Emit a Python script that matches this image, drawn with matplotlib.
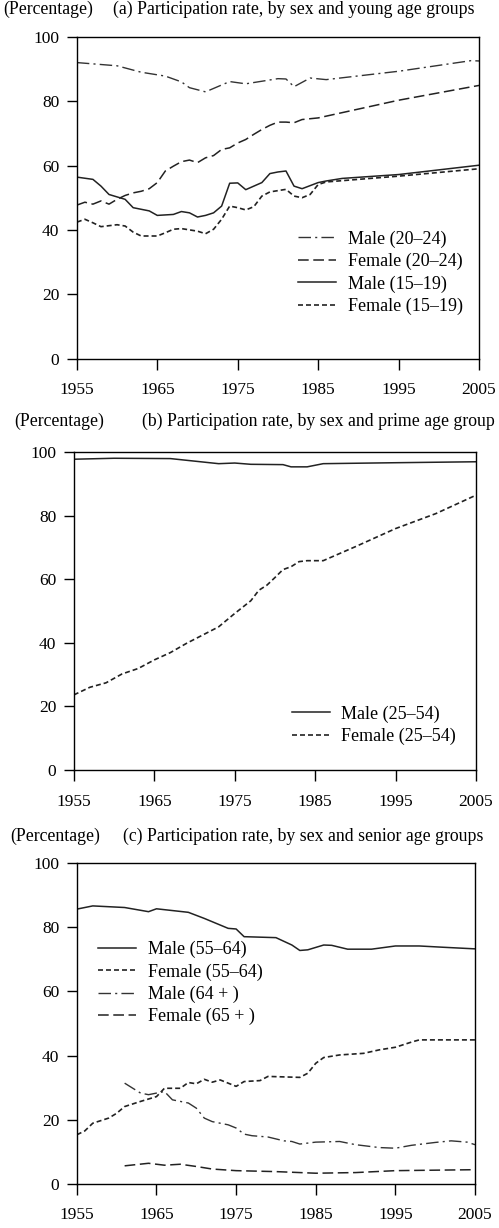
import matplotlib
matplotlib.use("Agg")
import matplotlib.pyplot as plt

plt.rcParams['font.family'] = ['Liberation Serif', 'DejaVu Serif']

# (a) young age groups
a_m2024_yr = [1955, 1960, 1963, 1966, 1968, 1969, 1971, 1974, 1976, 1980, 1981, 1982, 1984, 1986, 1995, 2004, 2005]
a_m2024 = [92.0, 91.0, 89.0, 87.8, 86.0, 84.2, 82.9, 86.1, 85.4, 87.0, 86.9, 84.5, 87.2, 86.7, 89.3, 92.6, 92.5]

a_f2024_yr = [1955, 1956, 1957, 1958, 1959, 1960, 1961, 1962, 1963, 1964, 1965, 1966, 1967, 1968, 1969, 1970,
              1971, 1972, 1973, 1974, 1975, 1976, 1977, 1978, 1979, 1980, 1981, 1982, 1983, 1985, 1995, 2005]
a_f2024 = [47.7, 48.6, 48.0, 49.0, 48.0, 49.5, 50.7, 51.5, 52.0, 52.8, 54.7, 58.3, 59.8, 61.2, 61.7, 60.9,
           62.4, 63.1, 65.0, 65.5, 67.0, 68.1, 69.7, 71.2, 72.5, 73.5, 73.5, 73.3, 74.3, 74.8, 80.3, 84.9]

a_m1519_yr = [1955, 1957, 1958, 1959, 1961, 1962, 1964, 1965, 1967, 1968, 1969, 1970, 1971, 1972, 1973,
              1974, 1975, 1976, 1977, 1978, 1979, 1980, 1981, 1982, 1983, 1985, 1986, 1988, 1995, 2005]
a_m1519 = [56.4, 55.7, 53.6, 51.0, 49.5, 46.9, 45.9, 44.5, 44.8, 45.7, 45.3, 44.0, 44.5, 45.3, 47.4,
           54.5, 54.6, 52.5, 53.6, 54.7, 57.5, 58.0, 58.3, 53.6, 52.8, 54.7, 55.2, 56.0, 57.2, 60.1]

a_f1519_yr = [1955, 1956, 1957, 1958, 1960, 1961, 1962, 1963, 1965, 1966, 1967, 1968, 1970, 1971, 1972,
              1973, 1974, 1975, 1976, 1977, 1978, 1979, 1981, 1982, 1983, 1984, 1985, 1986, 1995, 2005]
a_f1519 = [42.4, 43.3, 42.2, 41.0, 41.6, 41.2, 39.3, 38.1, 38.1, 39.1, 40.2, 40.4, 39.6, 38.8, 40.2,
           43.3, 47.4, 46.9, 46.2, 47.2, 50.5, 51.8, 52.6, 50.5, 50.0, 51.0, 54.1, 54.9, 56.7, 59.0]

# (b) prime age group
b_m_yr = [1955, 1960, 1967, 1970, 1973, 1975, 1977, 1981, 1982, 1984, 1986, 1995, 2005]
b_m = [97.7, 98.0, 97.9, 97.1, 96.3, 96.5, 96.1, 96.0, 95.3, 95.3, 96.3, 96.6, 96.9]

b_f_yr = [1955, 1957, 1959, 1961, 1963, 1965, 1967, 1969, 1971, 1973, 1975, 1977, 1978, 1979, 1980,
          1981, 1982, 1983, 1984, 1986, 1990, 1995, 2000, 2005]
b_f = [23.6, 26.0, 27.4, 30.2, 31.9, 34.6, 36.9, 39.8, 42.4, 45.0, 49.2, 53.2, 56.5, 58.1, 60.5,
       63.0, 63.9, 65.5, 65.8, 65.8, 70.2, 75.9, 80.6, 86.4]

# (c) senior age groups
c_m5564_yr = [1955, 1957, 1961, 1964, 1965, 1969, 1971, 1974, 1975, 1976, 1980, 1982, 1983, 1984, 1986,
              1987, 1989, 1992, 1995, 1998, 2001, 2005]
c_m5564 = [85.7, 86.7, 86.2, 84.9, 85.8, 84.7, 82.8, 79.7, 79.5, 77.1, 76.8, 74.5, 72.8, 73.0, 74.5,
           74.4, 73.2, 73.2, 74.2, 74.2, 73.8, 73.3]

c_f5564_yr = [1955, 1956, 1957, 1959, 1960, 1961, 1963, 1965, 1966, 1968, 1969, 1970, 1971, 1972, 1973,
              1974, 1975, 1976, 1978, 1979, 1983, 1984, 1985, 1986, 1988, 1991, 1993, 1995, 1997, 1998, 2005]
c_f5564 = [15.3, 16.5, 18.9, 20.5, 22.0, 24.1, 25.7, 27.2, 29.8, 29.8, 31.6, 31.2, 32.6, 31.7, 32.4,
           31.4, 30.4, 31.9, 32.2, 33.5, 33.2, 34.5, 37.6, 39.4, 40.2, 40.7, 41.8, 42.6, 44.2, 44.9, 44.9]

c_m65_yr = [1961, 1963, 1964, 1966, 1967, 1969, 1970, 1971, 1972, 1974, 1975, 1976, 1977, 1979, 1981,
            1982, 1983, 1985, 1988, 1990, 1993, 1995, 1997, 2000, 2002, 2004, 2005]
c_m65 = [31.4, 28.3, 27.8, 28.8, 26.2, 25.2, 23.6, 20.5, 19.4, 18.4, 17.4, 15.5, 15.0, 14.6, 13.4,
         13.2, 12.4, 13.0, 13.2, 12.2, 11.3, 11.1, 12.0, 12.9, 13.4, 13.0, 12.2]

c_f65_yr = [1961, 1964, 1966, 1968, 1970, 1972, 1975, 1980, 1985, 1990, 1995, 2005]
c_f65 = [5.6, 6.4, 5.8, 6.1, 5.4, 4.6, 4.1, 3.8, 3.3, 3.5, 4.1, 4.4]

xticks = [1955, 1965, 1975, 1985, 1995, 2005]
yticks = [0, 20, 40, 60, 80, 100]

DASHDOT = (0, (9, 3, 1.5, 3))
LONGDASH = (0, (7, 3))
SHORTDASH = (0, (3, 1.8))

fig = plt.figure(figsize=(4.99, 12.28), dpi=100)
fs_tick = 12.5
fs_head = 12.8
fs_leg = 13


def setup(ax):
    ax.set_xlim(1955, 2005)
    ax.set_ylim(0, 100)
    ax.set_xticks(xticks)
    ax.set_yticks(yticks)
    ax.tick_params(axis='x', direction='out', length=8, width=1, labelsize=fs_tick, pad=9)
    ax.tick_params(axis='y', direction='out', length=7.5, width=1, labelsize=fs_tick, pad=5)
    for s in ax.spines.values():
        s.set_linewidth(1)


def header(y, xl, xt, text):
    fig.text(xl / 499, 1 - y / 1228, '(Percentage)', fontsize=fs_head, va='center')
    fig.text(xt / 499, 1 - y / 1228, text, fontsize=fs_head, va='center')


def add_legend(ax, x, y):
    ax.legend(loc='upper left', bbox_to_anchor=(x, y), frameon=False, fontsize=fs_leg,
              handlelength=2.1, labelspacing=0.28, handletextpad=0.65,
              borderpad=0, borderaxespad=0)


# panel (a)
ax1 = fig.add_axes([0.154, 0.708, 0.806, 0.262])
setup(ax1)
ax1.plot(a_m2024_yr, a_m2024, color='#333', lw=1, ls=DASHDOT, label='Male (20–24)')
ax1.plot(a_f2024_yr, a_f2024, color='#222', lw=1.1, ls=LONGDASH, label='Female (20–24)')
ax1.plot(a_m1519_yr, a_m1519, color='#222', lw=1.1, ls='-', label='Male (15–19)')
ax1.plot(a_f1519_yr, a_f1519, color='#222', lw=1.2, ls=SHORTDASH, label='Female (15–19)')
add_legend(ax1, 0.55, 0.398)
header(9, 3, 113, '(a) Participation rate, by sex and young age groups')

# panel (b)
ax2 = fig.add_axes([0.148, 0.373, 0.806, 0.259])
setup(ax2)
ax2.plot(b_m_yr, b_m, color='#222', lw=1.1, ls='-', label='Male (25–54)')
ax2.plot(b_f_yr, b_f, color='#222', lw=1.2, ls=SHORTDASH, label='Female (25–54)')
add_legend(ax2, 0.542, 0.203)
header(421, 14, 142, '(b) Participation rate, by sex and prime age group')

# panel (c)
ax3 = fig.add_axes([0.154, 0.036, 0.798, 0.261])
setup(ax3)
ax3.plot(c_m5564_yr, c_m5564, color='#222', lw=1.1, ls='-', label='Male (55–64)')
ax3.plot(c_f5564_yr, c_f5564, color='#222', lw=1.2, ls=SHORTDASH, label='Female (55–64)')
ax3.plot(c_m65_yr, c_m65, color='#333', lw=1, ls=DASHDOT, label='Male (64 + )')
ax3.plot(c_f65_yr, c_f65, color='#222', lw=1.1, ls=LONGDASH, label='Female (65 + )')
add_legend(ax3, 0.053, 0.758)
header(836, 10, 123, '(c) Participation rate, by sex and senior age groups')

fig.savefig('out.png', dpi=100)
